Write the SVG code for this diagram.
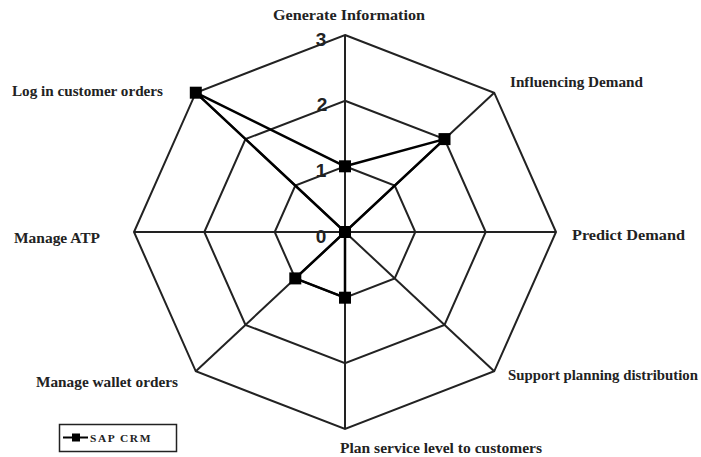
<svg xmlns="http://www.w3.org/2000/svg" width="701" height="457" viewBox="0 0 701 457">
<style>
.grid{fill:none;stroke:#222;stroke-width:2}
.lbl{font-family:"Liberation Serif","Times New Roman",serif;font-weight:bold;font-size:15px;fill:#222}
.tick{font-family:"Liberation Sans",Arial,sans-serif;font-weight:bold;font-size:19px;fill:#222}
.series{fill:none;stroke:#000;stroke-width:2.5;stroke-linejoin:miter}
.mk{fill:#000}
</style>
<defs>
<rect id="m" x="-6" y="-6" width="12" height="12" class="mk"/>
</defs>
<rect width="701" height="457" fill="#fff"/>
<g id="grid">
<polygon class="grid" points="345,35 494.2,92.7 556,232 494.2,371.3 345,429 195.8,371.3 134,232 195.8,92.7"/>
<polygon class="grid" points="345,100.7 444.5,139.1 485.7,232 444.5,324.9 345,363.3 245.5,324.9 204.3,232 245.5,139.1"/>
<polygon class="grid" points="345,166.3 394.7,185.6 415.3,232 394.7,278.4 345,297.7 295.3,278.4 274.7,232 295.3,185.6"/>
<g class="grid">
<line x1="345" y1="232" x2="345" y2="35"/>
<line x1="345" y1="232" x2="494.2" y2="92.7"/>
<line x1="345" y1="232" x2="556" y2="232"/>
<line x1="345" y1="232" x2="494.2" y2="371.3"/>
<line x1="345" y1="232" x2="345" y2="429"/>
<line x1="345" y1="232" x2="195.8" y2="371.3"/>
<line x1="345" y1="232" x2="134" y2="232"/>
<line x1="345" y1="232" x2="195.8" y2="92.7"/>
</g>
</g>
<g id="ticks">
<text class="tick" x="321" y="46" text-anchor="middle">3</text>
<text class="tick" x="322" y="111" text-anchor="middle">2</text>
<text class="tick" x="321" y="177" text-anchor="middle">1</text>
<text class="tick" x="321" y="243" text-anchor="middle">0</text>
</g>
<g id="labels">
<text id="generate" class="lbl" x="273" y="20" textLength="152" lengthAdjust="spacingAndGlyphs">Generate Information</text>
<text id="influencing" class="lbl" x="510" y="87" textLength="133" lengthAdjust="spacingAndGlyphs">Influencing Demand</text>
<text id="predict" class="lbl" x="572" y="240" textLength="113" lengthAdjust="spacingAndGlyphs">Predict Demand</text>
<text id="support" class="lbl" x="508" y="380" textLength="190" lengthAdjust="spacingAndGlyphs">Support planning distribution</text>
<text id="plan" class="lbl" x="340" y="453" textLength="202" lengthAdjust="spacingAndGlyphs">Plan service level to customers</text>
<text id="wallet" class="lbl" x="36" y="387" textLength="142" lengthAdjust="spacingAndGlyphs">Manage wallet orders</text>
<text id="atp" class="lbl" x="14" y="243" textLength="86" lengthAdjust="spacingAndGlyphs">Manage ATP</text>
<text id="login" class="lbl" x="12" y="96" textLength="151" lengthAdjust="spacingAndGlyphs">Log in customer orders</text>
</g>
<g id="series">
<polygon class="series" points="345,166.3 444.5,139.1 345,232 345,232 345,297.7 295.3,278.4 345,232 195.8,92.7"/>
<use href="#m" x="345" y="166.3"/>
<use href="#m" x="444.5" y="139.1"/>
<use href="#m" x="345" y="232"/>
<use href="#m" x="345" y="297.7"/>
<use href="#m" x="295.3" y="278.4"/>
<use href="#m" x="195.8" y="92.7"/>
</g>
<g id="legend">
<rect x="59.5" y="424.5" width="117" height="27" fill="#fff" stroke="#222" stroke-width="1.5"/>
<line x1="63" y1="437.5" x2="88" y2="437.5" stroke="#000" stroke-width="2"/>
<rect x="72" y="433.5" width="8" height="8" fill="#000"/>
<text x="90" y="442" font-family="Liberation Serif, Times New Roman, serif" font-weight="bold" font-size="11" letter-spacing="1.5" fill="#222" textLength="62" lengthAdjust="spacingAndGlyphs">SAP CRM</text>
</g>
</svg>
